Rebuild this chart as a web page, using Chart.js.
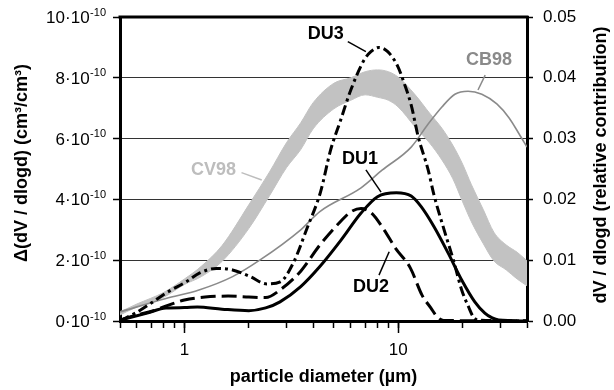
<!DOCTYPE html>
<html>
<head>
<meta charset="utf-8">
<script src="https://cdn.jsdelivr.net/npm/chart.js@4.4.1/dist/chart.umd.min.js"></script>
<style>
  html, body { margin: 0; padding: 0; background: #fff; }
  #wrap { width: 614px; height: 390px; }
</style>
</head>
<body>
<div id="wrap"><canvas id="sizeChart" width="614" height="390"></canvas></div>
<script>
// diameters in µm, DU values in units of 1e-10 cm3/cm3 (left axis)
const du1D = [0.5, 0.67, 0.82, 1.0, 1.15, 1.5, 2.0, 2.4, 2.8, 3.5, 4.3, 5.4, 6.7, 8.0, 9.8, 11.5, 12.8, 14.7, 17.1, 19.8, 22.8, 25.4, 27.5, 29.5, 40];
const du1V = [0.03, 0.26, 0.43, 0.44, 0.46, 0.39, 0.34, 0.43, 0.63, 1.13, 1.79, 2.66, 3.55, 4.09, 4.22, 4.11, 3.76, 3.10, 2.24, 1.35, 0.63, 0.26, 0.10, 0.03, 0];

const du2D = [0.5, 0.6, 0.71, 0.85, 1.0, 1.25, 1.6, 2.0, 2.4, 2.8, 3.5, 4.3, 5.4, 6.0, 6.7, 7.5, 8.6, 9.7, 11.4, 12.9, 14.2, 15.2, 16.3, 40];
const du2V = [0.03, 0.2, 0.33, 0.53, 0.69, 0.79, 0.82, 0.79, 0.77, 1.02, 1.64, 2.5, 3.29, 3.59, 3.70, 3.55, 2.99, 2.40, 1.74, 0.86, 0.43, 0.14, 0.02, 0];

const du3D = [0.5, 0.59, 0.70, 0.82, 1.02, 1.18, 1.41, 1.68, 2.03, 2.43, 2.81, 3.23, 3.75, 4.33, 4.83, 5.38, 6.0, 6.93, 7.45, 8.13, 8.93, 9.96, 10.65, 11.5, 12.4, 13.8, 14.7, 16.4, 18.1, 19.8, 21.3, 22.4, 23.7, 40];
const du3V = [0.01, 0.26, 0.59, 0.92, 1.29, 1.58, 1.73, 1.68, 1.46, 1.22, 1.29, 1.91, 3.06, 4.24, 5.63, 6.61, 7.6, 8.59, 8.86, 9.0, 8.86, 8.37, 7.83, 7.1, 6.06, 4.97, 4.14, 2.99, 2.01, 1.02, 0.47, 0.14, 0.03, 0];

// relative contribution (right axis)
const cbD = [0.5, 0.82, 1.17, 1.68, 2.25, 3.5, 4.3, 6.7, 8.4, 11.5, 13.8, 16.0, 18.4, 21.2, 24.6, 28.9, 33.0, 36.7, 40];
const cbR = [0.0015, 0.0037, 0.0051, 0.0073, 0.0100, 0.0150, 0.0180, 0.0219, 0.0248, 0.0286, 0.0324, 0.0352, 0.0373, 0.0378, 0.0373, 0.0357, 0.0334, 0.0308, 0.0286];

const cvD = [0.5, 0.6, 0.8, 1, 1.2, 1.5, 2, 2.5, 3, 3.5, 4, 5, 6, 7, 8, 9, 10, 12, 14, 16, 18, 20, 22, 25, 28, 32, 36, 40];
const cvHigh = [0.0015, 0.0028, 0.0047, 0.0069, 0.0090, 0.0124, 0.0191, 0.0245, 0.0293, 0.0326, 0.0359, 0.0391, 0.0400, 0.0410, 0.0413, 0.0410, 0.0401, 0.0372, 0.0342, 0.0317, 0.0289, 0.0258, 0.0224, 0.0183, 0.0146, 0.0125, 0.0113, 0.0099];
const cvLow = [0.0010, 0.0023, 0.0039, 0.0060, 0.0073, 0.0098, 0.0152, 0.0206, 0.0252, 0.0282, 0.0316, 0.0349, 0.0363, 0.0372, 0.0368, 0.0363, 0.0352, 0.0319, 0.0293, 0.0265, 0.0234, 0.0196, 0.0163, 0.0127, 0.0099, 0.0084, 0.0069, 0.0058];

const xTicks = [0.5, 0.6, 0.7, 0.8, 0.9, 1, 2, 3, 4, 5, 6, 7, 8, 9, 10, 20, 30, 40];
const xLabels = [1, 10];
const leftTicks = [0, 2, 4, 6, 8, 10];
const rightTicks = [0, 0.01, 0.02, 0.03, 0.04, 0.05];

// curve labels, placed in data units (x in µm, y on left axis) with a leader line
const notes = [
  { text: 'DU3', color: '#000', at: [4.58, 9.44], from: [5.81, 9.19], to: [7.06, 8.86] },
  { text: 'DU1', color: '#000', at: [6.62, 5.33], from: [7.06, 4.97], to: [8.31, 4.24] },
  { text: 'DU2', color: '#000', at: [7.46, 1.12], from: [8.13, 1.51], to: [9.07, 2.28] },
  { text: 'CB98', color: '#8a8a8a', at: [26.6, 8.59], from: [25.5, 8.09], to: [23.6, 7.6] },
  { text: 'CV98', color: '#bdbdbd', at: [1.37, 4.97], from: [1.85, 4.88], to: [2.30, 4.64] }
];

const FONT = '"Liberation Sans", Arial, Helvetica, sans-serif';

function pts(xs, ys) {
  return xs.map((x, i) => ({ x: x, y: ys[i] }));
}

const decorations = {
  id: 'decorations',
  afterDraw(chart) {
    const ctx = chart.ctx;
    const area = chart.chartArea;
    const sx = chart.scales.x;
    const sy = chart.scales.y;
    ctx.save();

    // top frame
    ctx.strokeStyle = '#000';
    ctx.lineWidth = 3;
    ctx.beginPath();
    ctx.moveTo(area.left - 1.5, area.top);
    ctx.lineTo(area.right + 1.5, area.top);
    ctx.stroke();

    // long ticks at the decades
    ctx.lineWidth = 1.5;
    xLabels.forEach(v => {
      const px = Math.round(sx.getPixelForValue(v)) + 0.5;
      ctx.beginPath();
      ctx.moveTo(px, area.bottom);
      ctx.lineTo(px, area.bottom + 12);
      ctx.stroke();
    });

    // left tick labels with exponent
    ctx.fillStyle = '#000';
    ctx.textAlign = 'right';
    ctx.textBaseline = 'alphabetic';
    leftTicks.forEach(v => {
      const py = sy.getPixelForValue(v);
      ctx.font = '11px ' + FONT;
      const expW = ctx.measureText('-10').width;
      ctx.fillText('-10', 106, py - 1.5);
      ctx.font = '17px ' + FONT;
      ctx.fillText(v + '\u00b710', 106 - expW - 0.5, py + 6);
    });

    // y axis titles, both reading bottom to top
    ctx.textAlign = 'center';
    ctx.textBaseline = 'middle';
    ctx.font = 'bold 18px ' + FONT;
    ctx.save();
    ctx.translate(22, 163);
    ctx.rotate(-Math.PI / 2);
    ctx.fillText('\u0394(dV / dlogd) (cm\u00b3/cm\u00b3)', 0, 0);
    ctx.restore();
    ctx.save();
    ctx.translate(601, 165);
    ctx.rotate(-Math.PI / 2);
    ctx.fillText('dV / dlogd (relative contribution)', 0, 0);
    ctx.restore();

    // curve labels
    ctx.font = 'bold 18px ' + FONT;
    notes.forEach(n => {
      ctx.strokeStyle = n.color;
      ctx.fillStyle = n.color;
      ctx.lineWidth = 1.5;
      ctx.beginPath();
      ctx.moveTo(sx.getPixelForValue(n.from[0]), sy.getPixelForValue(n.from[1]));
      ctx.lineTo(sx.getPixelForValue(n.to[0]), sy.getPixelForValue(n.to[1]));
      ctx.stroke();
      ctx.fillText(n.text, sx.getPixelForValue(n.at[0]), sy.getPixelForValue(n.at[1]));
    });

    ctx.restore();
  }
};

const ctx = document.getElementById('sizeChart').getContext('2d');

new Chart(ctx, {
  type: 'line',
  data: {
    datasets: [
      {
        label: 'CV98 upper',
        data: pts(cvD, cvHigh),
        yAxisID: 'y2',
        borderColor: '#c2c2c2',
        borderWidth: 1,
        backgroundColor: '#c2c2c2',
        fill: '+1',
        pointRadius: 0,
        cubicInterpolationMode: 'monotone',
        order: 6
      },
      {
        label: 'CV98 lower',
        data: pts(cvD, cvLow),
        yAxisID: 'y2',
        borderColor: '#c2c2c2',
        borderWidth: 1,
        fill: false,
        pointRadius: 0,
        cubicInterpolationMode: 'monotone',
        order: 5
      },
      {
        label: 'CB98',
        data: pts(cbD, cbR),
        yAxisID: 'y2',
        borderColor: '#8a8a8a',
        borderWidth: 1.6,
        fill: false,
        pointRadius: 0,
        cubicInterpolationMode: 'monotone',
        order: 4
      },
      {
        label: 'DU1',
        data: pts(du1D, du1V),
        yAxisID: 'y',
        borderColor: '#000',
        borderWidth: 3,
        fill: false,
        pointRadius: 0,
        cubicInterpolationMode: 'monotone',
        order: 3
      },
      {
        label: 'DU2',
        data: pts(du2D, du2V),
        yAxisID: 'y',
        borderColor: '#000',
        borderWidth: 3,
        borderDash: [15, 6],
        fill: false,
        pointRadius: 0,
        cubicInterpolationMode: 'monotone',
        order: 2
      },
      {
        label: 'DU3',
        data: pts(du3D, du3V),
        yAxisID: 'y',
        borderColor: '#000',
        borderWidth: 3,
        borderDash: [10, 4, 3, 4],
        fill: false,
        pointRadius: 0,
        cubicInterpolationMode: 'monotone',
        order: 1
      }
    ]
  },
  options: {
    responsive: false,
    animation: false,
    devicePixelRatio: 1,
    layout: { padding: { top: 17, left: 0, right: 0, bottom: 0 } },
    plugins: {
      legend: { display: false },
      tooltip: { enabled: false }
    },
    scales: {
      x: {
        type: 'logarithmic',
        min: 0.5,
        max: 40,
        afterBuildTicks: s => { s.ticks = xTicks.map(v => ({ value: v })); },
        afterFit: s => { s.height = 69; s.paddingLeft = 0; s.paddingRight = 0; },
        border: { display: true, color: '#000', width: 3 },
        grid: { drawOnChartArea: false, drawTicks: true, tickLength: 7, tickColor: '#000', tickWidth: 1.5 },
        ticks: {
          autoSkip: false,
          maxRotation: 0,
          padding: 12,
          color: '#000',
          font: { family: FONT, size: 17 },
          callback: v => (xLabels.includes(v) ? String(v) : '')
        },
        title: {
          display: true,
          text: 'particle diameter (\u00b5m)',
          color: '#000',
          font: { family: FONT, size: 18, weight: 'bold' },
          padding: { top: 0, bottom: 2 }
        }
      },
      y: {
        position: 'left',
        min: 0,
        max: 10,
        afterBuildTicks: s => { s.ticks = leftTicks.map(v => ({ value: v })); },
        afterFit: s => { s.width = 120; s.paddingTop = 0; s.paddingBottom = 0; },
        border: { display: true, color: '#000', width: 3 },
        grid: {
          drawOnChartArea: true,
          tickLength: 7,
          tickColor: '#000',
          tickWidth: 1.5,
          color: c => (c.tick && (c.tick.value === 0 || c.tick.value === 10) ? 'rgba(0,0,0,0)' : '#333'),
          lineWidth: 1
        },
        ticks: { display: false }
      },
      y2: {
        position: 'right',
        min: 0,
        max: 0.05,
        afterBuildTicks: s => { s.ticks = rightTicks.map(v => ({ value: v })); },
        afterFit: s => { s.width = 87; s.paddingTop = 0; s.paddingBottom = 0; },
        border: { display: true, color: '#000', width: 3 },
        grid: { drawOnChartArea: false, tickLength: 6, tickColor: '#000', tickWidth: 1.5 },
        ticks: {
          padding: 10,
          color: '#000',
          font: { family: FONT, size: 17 },
          callback: v => v.toFixed(2)
        }
      }
    }
  },
  plugins: [decorations]
});
</script>
</body>
</html>
